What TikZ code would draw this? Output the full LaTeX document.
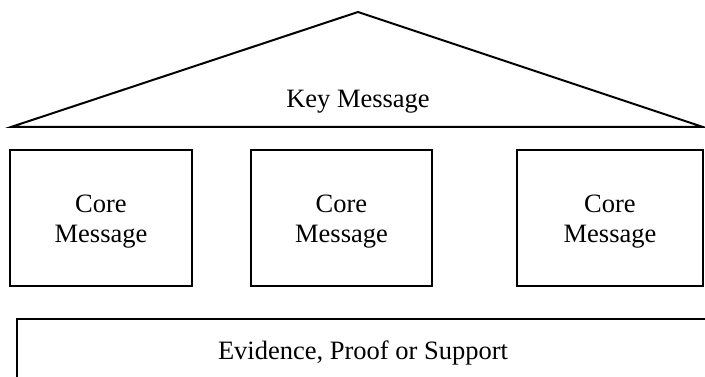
\documentclass[tikz,border=0pt]{standalone}
\usepackage{fontspec}
\setmainfont{Liberation Serif}
\begin{document}
\begin{tikzpicture}[x=1pt,y=-1pt,
  every node/.style={font=\fontsize{26.5}{30}\selectfont},
  line/.style={draw=black,line width=2pt,line join=miter},
  corebox/.style={line,rectangle,minimum width=182pt,minimum height=136pt,inner sep=0pt},
  coretext/.style={align=center,inner sep=0pt}]
\useasboundingbox (0,0) rectangle (705,377);
\clip (0,0) rectangle (705,377);
% roof
\coordinate (apex) at (358,12);
\coordinate (bl) at (11,127);
\coordinate (br) at (703,127);
\draw[line] (bl) -- (apex) -- (br) -- cycle;
\node[anchor=base] (key) at (358,108) {Key Message};
% core messages
\node[corebox] (c1) at (101,218) {};
\node[corebox,minimum width=181pt] (c2) at (341.5,218) {};
\node[corebox,minimum width=186pt] (c3) at (610,218) {};
\node[coretext] (t1) at ([yshift=-4pt]c1.center) {Core\\Message};
\node[coretext] (t2) at ([yshift=-4pt]c2.center) {Core\\Message};
\node[coretext] (t3) at ([yshift=-4pt]c3.center) {Core\\Message};
% foundation
\node[line,rectangle,minimum width=696pt,minimum height=90pt,anchor=north west,inner sep=0pt] (base) at (16,318) {};
\node[anchor=base] (ev) at (363,359) {Evidence, Proof or Support};
\end{tikzpicture}
\end{document}
